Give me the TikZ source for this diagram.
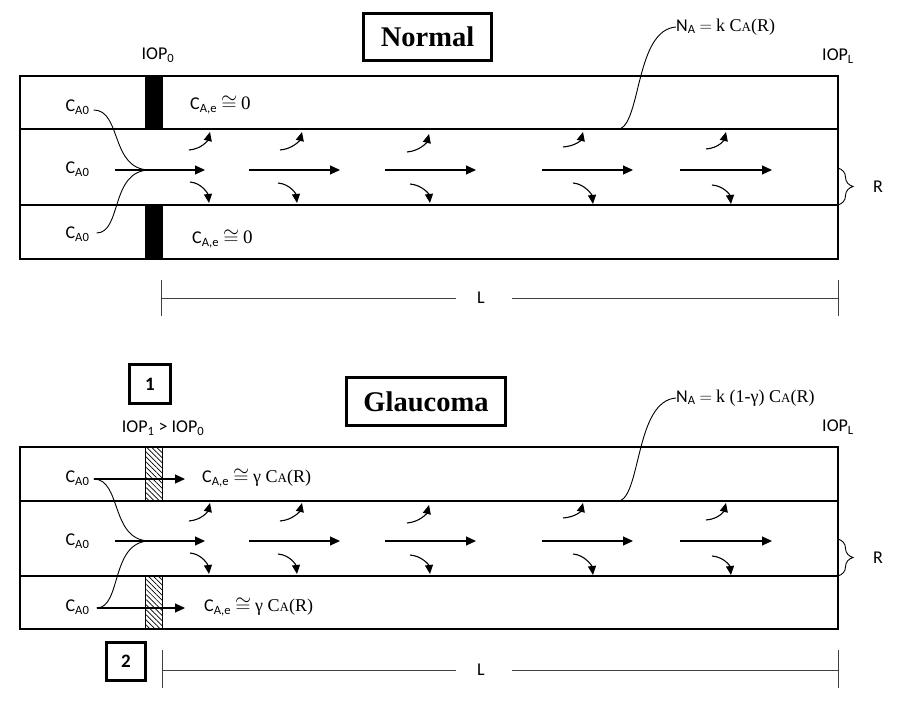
\documentclass[tikz,border=0pt]{standalone}
\usepackage{fontspec}
\setmainfont{Carlito}
\newfontfamily\tnr{Liberation Serif}
\usetikzlibrary{arrows.meta,patterns.meta,decorations.pathreplacing}
\newcommand{\smA}{{\fontsize{13}{14}\selectfont A}}
\newcommand{\bigcong}{{\fontsize{21}{22}\selectfont$\cong$}}
\begin{document}
\begin{tikzpicture}[x=1pt,y=-1pt,
  wall/.style={line width=2pt},
  flow/.style={line width=1.1pt,-{Triangle[length=10pt,width=9pt]}},
  curl/.style={line width=1.1pt,-{Triangle[length=9pt,width=8pt]}},
  thinline/.style={line width=0.9pt},
  lbl/.style={font=\fontsize{18}{20}\selectfont, inner sep=0pt},
  titlebox/.style={draw, line width=3pt, font=\fontsize{28.5}{30}\selectfont\tnr\bfseries, inner sep=0pt},
  numbox/.style={draw, line width=2.5pt, font=\fontsize{19}{20}\selectfont\bfseries, inner sep=0pt, minimum width=41pt, minimum height=39pt},
  dim/.style={line width=0.8pt, black!75},
  bar/.style={fill=black},
  hatchbar/.style={draw, line width=1pt, pattern={Lines[angle=-45,distance=3.6pt,line width=0.7pt]}},
  rbrace/.style={decorate, decoration={brace, amplitude=15pt}, line width=0.9pt},
  flows/.pic={
    \foreach \a/\b in {115/205,249/340,385/476,542/633,680/772}
      \draw[flow] (\a,94) -- (\b,94);
    \foreach \sx/\sy/\tx/\ty in {189/74/210/56,280/74/302/56,407/76/429/58,563/71/583/56,706/73/726/56}
      \draw[curl] (\sx,\sy) .. controls (\sx+13,\sy-1) and (\tx-2,\ty+8) .. (\tx,\ty);
    \foreach \sx/\sy/\tx/\ty in {190/106/209/127,278/107/297/127,410/108/430/127,573/107/593/128,712/109/731/128}
      \draw[curl] (\sx,\sy) .. controls (\sx+12,\sy+1) and (\tx-1,\ty-9) .. (\tx,\ty);
  }
]
\useasboundingbox (0,0) rectangle (897,708);

% ================= Normal =================
\node[titlebox, minimum width=128pt, minimum height=47pt] (tn) at (427.5,37) {Normal};
\node[lbl] (iop0) at (158,55) {IOP\textsubscript{0}};
\node[lbl] (iopl1) at (838,56) {IOP\textsubscript{L}};

\fill[bar] (145,76) rectangle (163,129);
\fill[bar] (145,205) rectangle (163,259);
\draw[wall] (20,76) rectangle (838,259);
\draw[wall] (20,129) -- (838,129);
\draw[wall] (20,205) -- (838,205);

\node[lbl] (n1) at (77.5,107) {C\textsubscript{A0}};
\node[lbl] (n2) at (77.5,169) {C\textsubscript{A0}};
\node[lbl] (n3) at (77.5,234) {C\textsubscript{A0}};
\coordinate (nm) at (150,170);
\draw[thinline] ([shift={(4,3)}]n1.east) .. controls (122,110) and (110,170) .. (nm);
\draw[thinline] ([shift={(7,-1)}]n3.east) .. controls (122,233) and (110,170) .. (nm);
\pic at (0,76) {flows};

\node[lbl, anchor=west] (ne1) at (190,105) {C\textsubscript{A,e}\hspace{4pt}\bigcong\hspace{4pt}{\tnr\fontsize{19}{20}\selectfont 0}};
\node[lbl, anchor=west] (ne2) at (192,239) {C\textsubscript{A,e}\hspace{4pt}\bigcong\hspace{4pt}{\tnr\fontsize{19}{20}\selectfont 0}};

\node[lbl, anchor=west] (na1) at (676,27) {N\textsubscript{A} $=$ {\tnr k C\smA(R)}};
\draw[thinline] (620,129) .. controls (641,120) and (636,30) .. (na1.west);

\draw[rbrace] (838,168) -- (838,205);
\node[lbl] (r1) at (878,187) {R};

\coordinate (la1) at (161,280); \coordinate (lb1) at (161,316);
\coordinate (ra1) at (838,280); \coordinate (rb1) at (838,316);
\node[lbl] (l1) at (481,298) {L};
\draw[dim] (la1) -- (lb1);
\draw[dim] (ra1) -- (rb1);
\draw[dim] (161,298) -- ([xshift=-25pt]l1.center);
\draw[dim] ([xshift=31pt]l1.center) -- (838,298);

% ================= Glaucoma =================
\node[numbox] (b1) at (150,384) {1};
\node[lbl] (iop1) at (163,428) {IOP\textsubscript{1} > IOP\textsubscript{0}};
\node[titlebox, minimum width=159pt, minimum height=48pt] (tg) at (426,401.5) {Glaucoma};
\node[lbl] (iopl2) at (838,427) {IOP\textsubscript{L}};

\draw[hatchbar] (145,447) rectangle (162,501);
\draw[hatchbar] (145,576) rectangle (162,629);
\draw[wall] (20,447) rectangle (838,629);
\draw[wall] (20,501) -- (838,501);
\draw[wall] (20,576) -- (838,576);

\node[lbl] (g1) at (77.5,478) {C\textsubscript{A0}};
\node[lbl] (g2) at (77.5,541) {C\textsubscript{A0}};
\node[lbl] (g3) at (77.5,607) {C\textsubscript{A0}};
\coordinate (gm) at (150,541);
\node[lbl, anchor=west] (ge1) at (202,478) {C\textsubscript{A,e}\hspace{4pt}\bigcong\hspace{4pt}{\tnr γ C\smA(R)}};
\node[lbl, anchor=west] (ge2) at (204,607) {C\textsubscript{A,e}\hspace{4pt}\bigcong\hspace{4pt}{\tnr γ C\smA(R)}};
\draw[flow] ([shift={(4,1)}]g1.east) -- ([shift={(-17,1)}]ge1.west);
\draw[flow] ([shift={(7,1)}]g3.east) -- ([shift={(-19,1)}]ge2.west);
\draw[thinline] ([shift={(4,1)}]g1.east) .. controls (122,479) and (110,541) .. (gm);
\draw[thinline] ([shift={(7,1)}]g3.east) .. controls (122,608) and (110,541) .. (gm);
\pic at (0,447) {flows};

\node[lbl, anchor=west] (na2) at (676,398) {N\textsubscript{A} $=$ {\tnr k (1-γ) C\smA(R)}};
\draw[thinline] (620,501) .. controls (641,492) and (636,401) .. (na2.west);

\draw[rbrace] (838,539) -- (838,576);
\node[lbl] (r2) at (878,558) {R};

\node[numbox, minimum width=39pt, minimum height=38pt] (b2) at (126,661.5) {2};
\coordinate (la2) at (162,650); \coordinate (lb2) at (162,688);
\coordinate (ra2) at (838,650); \coordinate (rb2) at (838,688);
\node[lbl] (l2) at (481,670) {L};
\draw[dim] (la2) -- (lb2);
\draw[dim] (ra2) -- (rb2);
\draw[dim] (162,670) -- ([xshift=-25pt]l2.center);
\draw[dim] ([xshift=31pt]l2.center) -- (838,670);
\end{tikzpicture}
\end{document}
